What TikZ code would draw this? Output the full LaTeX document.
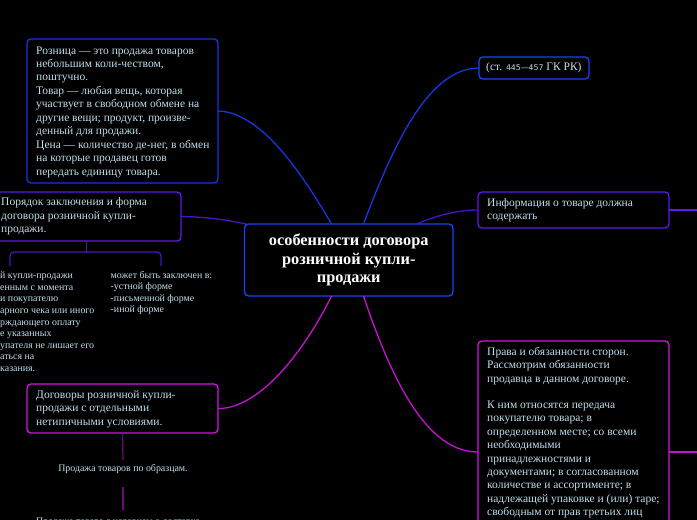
\documentclass[tikz,border=0pt]{standalone}
\usepackage{fontspec}
\setmainfont{Liberation Serif}
\newfontfamily\digfont{DejaVu Sans}
\usetikzlibrary{calc}
\definecolor{txtc}{RGB}{192,222,236}
\definecolor{bblue}{RGB}{22,70,250}
\definecolor{cblue}{RGB}{20,55,225}
\definecolor{bpurp}{RGB}{95,25,235}
\definecolor{cpurp}{RGB}{70,20,200}
\definecolor{bmag}{RGB}{215,20,230}
\definecolor{cmag}{RGB}{200,15,215}
\definecolor{dmag}{RGB}{110,10,115}
\definecolor{dpurp}{RGB}{75,20,190}
\begin{document}
\begin{tikzpicture}[x=1pt,y=-1pt,
  box/.style={draw, line width=1.3pt, rounded corners=4pt, fill=black, inner sep=0pt, outer sep=0pt},
  txt/.style={text=txtc, font=\fontsize{11.5}{13.45}\selectfont, align=left, inner sep=0pt, anchor=west},
  small/.style={text=txtc, font=\fontsize{9.9}{11.6}\selectfont, align=left, inner sep=0pt},
  conn/.style={line width=1.3pt},
  sub/.style={line width=1.2pt}
]
\useasboundingbox (0,0) rectangle (697,520);
\fill[black] (0,0) rectangle (697,520);

% central node
\node[box, draw=bblue, minimum width=208.5pt, minimum height=72pt, text=white,
      font=\fontsize{16.3}{18.7}\selectfont\bfseries, align=center] (c) at (348.75,260)
      {особенности договора\\розничной купли-\\продажи};
\coordinate (cN1) at ($(c.north west)+(87,0)$);
\coordinate (cN2) at ($(c.north west)+(119,0)$);
\coordinate (cN3) at ($(c.north west)+(2,0)$);
\coordinate (cN4) at ($(c.north west)+(172,0)$);
\coordinate (cS1) at ($(c.south west)+(87,0)$);
\coordinate (cS2) at ($(c.south west)+(119,0)$);

% boxes
\node[box, draw=cblue, minimum width=191pt, minimum height=144pt] (roz) at (122.5,111) {};
\node[box, draw=bpurp, minimum width=189pt, minimum height=49pt] (por) at (86.5,216.5) {};
\node[box, draw=bmag, minimum width=191pt, minimum height=49pt] (dog) at (122.5,408.5) {};
\node[box, draw=bblue, minimum width=110pt, minimum height=22pt] (st) at (534,68) {};
\node[box, draw=bpurp, minimum width=191pt, minimum height=36pt] (inf) at (573.5,210) {};
\node[box, draw=bmag, minimum width=191pt, minimum height=222pt] (pr) at (573.5,452) {};

% texts in boxes
\node[txt] (rozt) at (36,112) {Розница — это продажа товаров\\небольшим коли-чеством,\\поштучно.\\Товар — любая вещь, которая\\участвует в свободном обмене на\\другие вещи; продукт, произве-\\денный для продажи.\\Цена — количество де-нег, в обмен\\на которые продавец готов\\передать единицу товара.};
\node[txt] (port) at (1,216.5) {Порядок заключения и форма\\договора розничной купли-\\продажи.};
\node[txt] (dogt) at (36,409) {Договоры розничной купли-\\продажи с отдельными\\нетипичными условиями.};
\node[txt] (stt) at (486,68) {(ст. {\digfont\fontsize{7.8}{9}\selectfont 445—457} ГК РК)};
\node[txt] (inft) at (487,210) {Информация о товаре должна\\содержать};
\node[txt] (prt) at (487,432.7) {Права и обязанности сторон.\\Рассмотрим обязанности\\продавца в данном договоре.\\[12.5pt]К ним относятся передача\\покупателю товара; в\\определенном месте; со всеми\\необходимыми\\принадлежностями и\\документами; в согласованном\\количестве и ассортименте; в\\надлежащей упаковке и (или) таре;\\свободным от прав третьих лиц};

% main connectors
\draw[conn, cblue] (roz.east) .. controls (260,112) and (300,170) .. (cN1);
\draw[conn, cblue] (cN2) .. controls (395,140) and (430,68) .. (st.west);
\draw[conn, cpurp] (por.east) .. controls (215,217) and (235,222) .. (cN3);
\draw[conn, cpurp] (cN4) .. controls (440,214) and (460,210) .. (inf.west);
\draw[conn, cmag] (dog.east) .. controls (260,409) and (305,350) .. (cS1);
\draw[conn, cmag] (cS2) .. controls (395,390) and (430,452) .. (pr.west);

% right stubs
\coordinate (infR) at (697,210);
\coordinate (prR) at (697,452);
\draw[conn, bpurp] (inf.east) -- (infR);
\draw[conn, cmag] (pr.east) -- (prR);

% children of "Порядок"
\node[small, anchor=west] (porL) at (0,321.7) {й купли-продажи\\енным с момента\\и покупателю\\арного чека или иного\\рждающего оплату\\е указанных\\упателя не лишает его\\аться на\\казания.};
\node[small, anchor=west] (porR) at (110.5,293) {может быть заключен в:\\-устной форме\\-письменной форме\\-иной форме};
\coordinate (br) at ($(por.south)+(0,11)$);
\coordinate (kL) at (10,266);
\coordinate (kR) at (161,266);
\draw[sub, dpurp] (por.south) -- (br);
\draw[sub, dpurp, rounded corners=4pt] (kL) |- (br) -| (kR);

% children of "Договоры"
\node[small, inner sep=4pt] (ch1) at (123,469) {Продажа товаров по образцам.};
\node[small, anchor=west] (ch2) at (36,522) {Продажа товара с условием о доставке};
\draw[sub, dmag] (dog.south) -- (ch1.north);
\draw[sub, dmag] ($(ch1.south)+(0,9)$) -- ($(ch1.south)+(0,32)$);
\end{tikzpicture}
\end{document}
